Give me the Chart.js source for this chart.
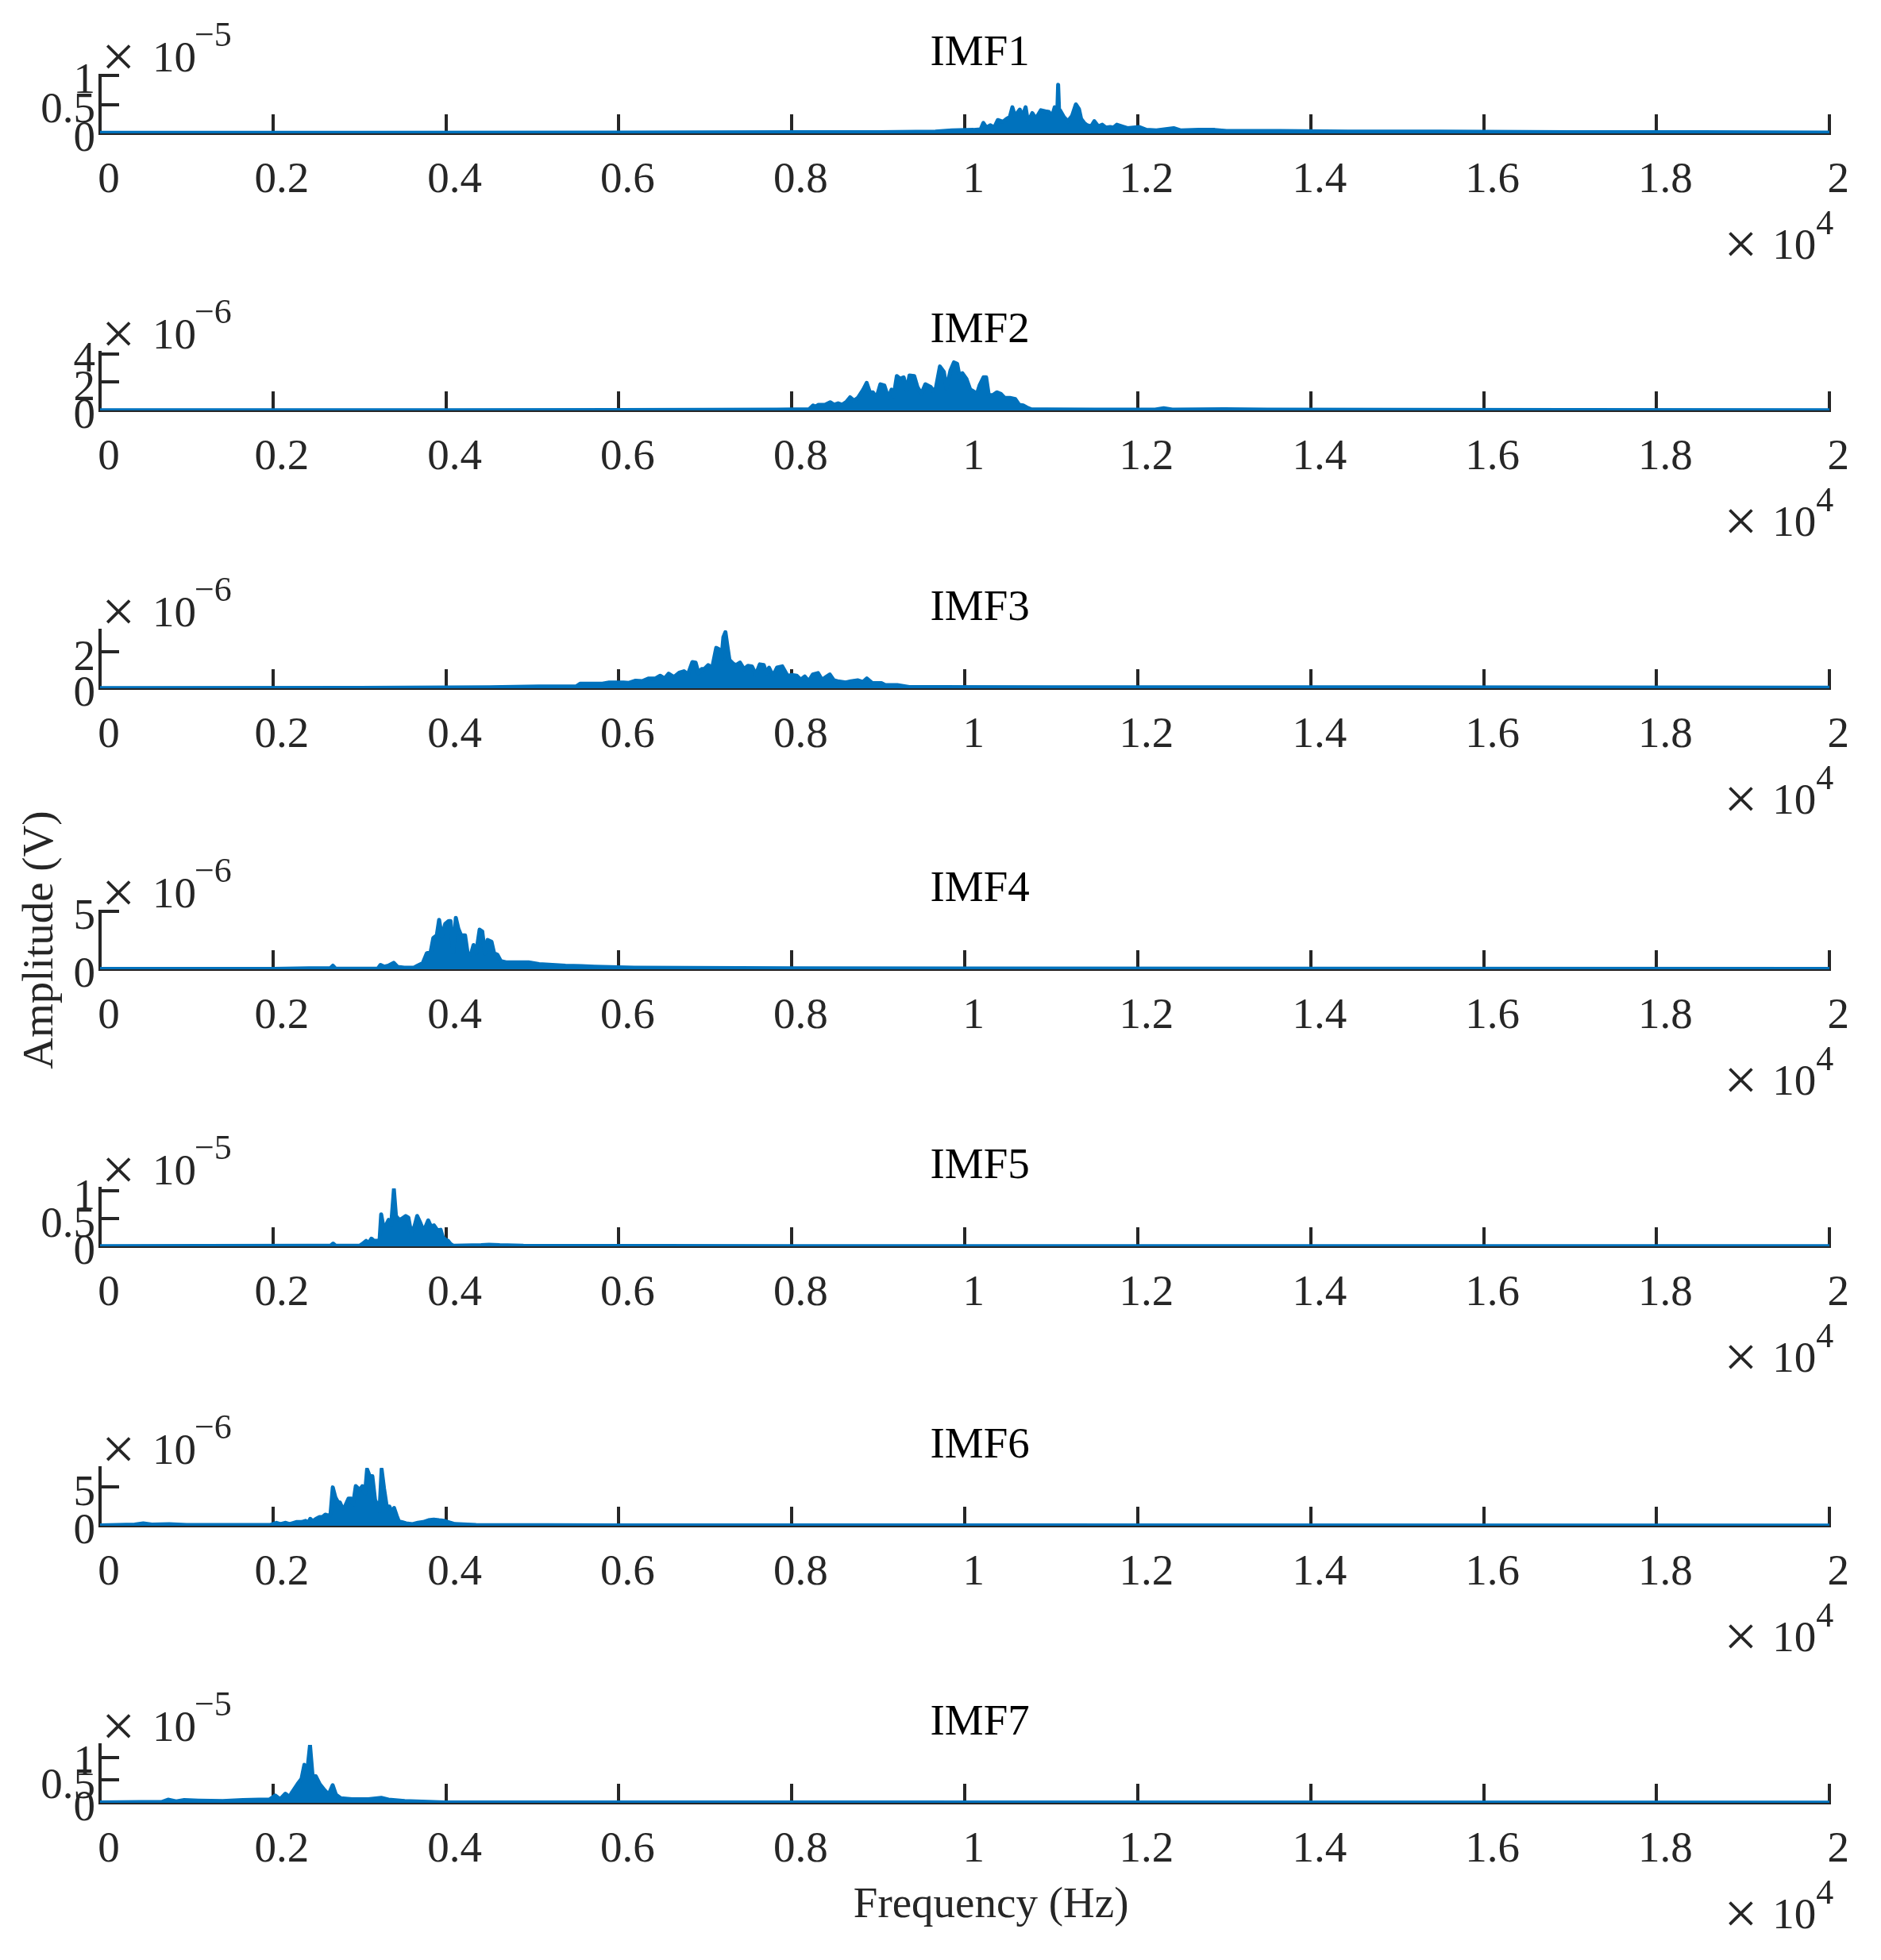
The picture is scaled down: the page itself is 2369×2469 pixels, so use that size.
<!DOCTYPE html>
<html>
<head>
<meta charset="utf-8">
<script src="https://cdn.jsdelivr.net/npm/chart.js@4.4.0/dist/chart.umd.min.js"></script>
<style>
  body { margin: 0; background: #fff; }
  #wrap { position: relative; width: 2369px; height: 2469px; overflow: hidden; background: #fff; }
  #wrap canvas { position: absolute; left: 0; }
  #ylabel {
    position: absolute; left: 47px; top: 1184px;
    font: 55px "Liberation Serif", "Times New Roman", serif; line-height: 1;
    color: #262626; white-space: nowrap;
    transform: translate(-50%, -50%) rotate(-90deg);
  }
</style>
</head>
<body>
<div id="wrap">
  <div id="ylabel">Amplitude (V)</div>
</div>
<script>
// panel names, y multipliers and y ranges
const panelNames = ['IMF1', 'IMF2', 'IMF3', 'IMF4', 'IMF5', 'IMF6', 'IMF7'];
const yExponents = [-5, -6, -6, -6, -5, -6, -5];
const yMax = [1, 4.1, 3.2, 5, 1.05, 7.5, 1.28];
const yTicks = [[0, 0.5, 1], [0, 2, 4], [0, 2], [0, 5], [0, 0.5, 1], [0, 5], [0, 0.5, 1]];
const xTickValues = [0, 2000, 4000, 6000, 8000, 10000, 12000, 14000, 16000, 18000, 20000];
const xTickLabels = ['0', '0.2', '0.4', '0.6', '0.8', '1', '1.2', '1.4', '1.6', '1.8', '2'];

// IMF1 spectrum (x 1e-5 V)
const freq1 = [0, 3000, 6000, 8000, 9000, 9660, 9850, 10100, 10183, 10214, 10250, 10297, 10340, 10382, 10440, 10483, 10520, 10550, 10580, 10636, 10670, 10703, 10730, 10749, 10780, 10810, 10840, 10880, 10930, 10972, 11010, 11039, 11070, 11079, 11090, 11100, 11146, 11192, 11240, 11284, 11320, 11345, 11380, 11412, 11460, 11498, 11544, 11590, 11630, 11681, 11720, 11758, 11880, 12018, 12100, 12216, 12415, 12500, 12705, 12889, 13026, 13638, 14433, 15500, 17000, 18500, 20000];
const amp1 = [0.01, 0.01, 0.015, 0.02, 0.02, 0.03, 0.05, 0.06, 0.07, 0.18, 0.10, 0.14, 0.10, 0.23, 0.20, 0.25, 0.28, 0.45, 0.30, 0.41, 0.30, 0.45, 0.20, 0.25, 0.35, 0.28, 0.30, 0.40, 0.38, 0.37, 0.30, 0.45, 0.40, 0.84, 0.40, 0.40, 0.28, 0.21, 0.30, 0.50, 0.42, 0.25, 0.18, 0.14, 0.12, 0.21, 0.12, 0.15, 0.10, 0.11, 0.10, 0.15, 0.09, 0.11, 0.06, 0.05, 0.09, 0.05, 0.06, 0.06, 0.04, 0.04, 0.03, 0.03, 0.02, 0.02, 0.015];

// IMF2 spectrum (x 1e-6 V)
const freq2 = [0, 4000, 6000, 7000, 7832, 8199, 8245, 8280, 8306, 8382, 8443, 8489, 8535, 8581, 8630, 8673, 8718, 8764, 8825, 8865, 8902, 8938, 8978, 9024, 9070, 9116, 9152, 9177, 9214, 9253, 9293, 9330, 9360, 9415, 9452, 9498, 9544, 9605, 9635, 9666, 9712, 9758, 9788, 9834, 9874, 9911, 9941, 9972, 10018, 10063, 10094, 10140, 10170, 10216, 10247, 10277, 10323, 10369, 10415, 10461, 10522, 10583, 10629, 10675, 10721, 10767, 10950, 11500, 12200, 12300, 12400, 13000, 13500, 15000, 17000, 20000];
const amp2 = [0.02, 0.02, 0.03, 0.04, 0.06, 0.08, 0.35, 0.25, 0.40, 0.40, 0.58, 0.40, 0.50, 0.40, 0.60, 0.93, 0.69, 0.89, 1.47, 1.95, 1.28, 1.28, 0.89, 1.85, 1.76, 0.89, 1.47, 1.00, 2.43, 2.24, 2.34, 1.47, 2.47, 2.43, 1.66, 1.18, 1.85, 1.66, 1.38, 1.60, 3.11, 2.72, 1.57, 2.82, 3.40, 3.30, 2.34, 2.63, 2.24, 1.47, 1.38, 1.18, 1.76, 2.34, 2.34, 1.08, 1.08, 1.28, 1.18, 0.89, 0.89, 0.80, 0.40, 0.35, 0.20, 0.08, 0.07, 0.06, 0.06, 0.15, 0.06, 0.08, 0.05, 0.04, 0.03, 0.02];

// IMF3 spectrum (x 1e-6 V)
const freq3 = [0, 3000, 4000, 4500, 5077, 5505, 5551, 5810, 5887, 6055, 6116, 6193, 6269, 6345, 6422, 6477, 6529, 6575, 6636, 6697, 6752, 6798, 6850, 6887, 6920, 6957, 6987, 7033, 7079, 7125, 7156, 7186, 7208, 7232, 7253, 7278, 7324, 7354, 7400, 7446, 7492, 7538, 7584, 7629, 7675, 7706, 7736, 7782, 7828, 7889, 7950, 8011, 8057, 8103, 8149, 8195, 8241, 8302, 8348, 8394, 8439, 8485, 8531, 8623, 8684, 8761, 8822, 8867, 8929, 9036, 9081, 9219, 9357, 9662, 11000, 13000, 15000, 17000, 20000];
const amp3 = [0.01, 0.02, 0.04, 0.06, 0.10, 0.10, 0.25, 0.25, 0.32, 0.32, 0.30, 0.42, 0.39, 0.54, 0.54, 0.69, 0.54, 0.81, 0.62, 0.86, 0.94, 0.76, 1.45, 1.42, 0.84, 1.06, 1.06, 1.28, 1.14, 2.23, 2.16, 1.64, 2.82, 3.10, 2.38, 1.57, 1.35, 1.28, 1.42, 1.06, 1.24, 1.21, 0.76, 1.32, 1.28, 0.84, 1.14, 0.69, 1.14, 1.21, 0.69, 0.73, 0.69, 0.47, 0.65, 0.39, 0.76, 0.84, 0.47, 0.62, 0.76, 0.44, 0.39, 0.32, 0.39, 0.44, 0.35, 0.54, 0.29, 0.28, 0.18, 0.18, 0.07, 0.07, 0.06, 0.05, 0.05, 0.04, 0.03];

// IMF4 spectrum (x 1e-6 V)
const freq4 = [0, 1000, 2000, 2417, 2662, 2692, 2723, 3212, 3243, 3288, 3334, 3395, 3441, 3518, 3625, 3671, 3732, 3778, 3823, 3854, 3894, 3921, 3952, 3992, 4031, 4053, 4083, 4114, 4144, 4175, 4221, 4251, 4288, 4319, 4349, 4389, 4420, 4450, 4481, 4527, 4557, 4594, 4634, 4695, 4863, 4955, 5077, 5230, 5382, 5566, 5719, 5902, 6177, 8000, 10000, 14000, 20000];
const amp4 = [0.03, 0.03, 0.04, 0.09, 0.09, 0.31, 0.05, 0.05, 0.38, 0.22, 0.31, 0.56, 0.20, 0.13, 0.13, 0.31, 0.53, 1.38, 1.49, 2.71, 2.93, 4.27, 2.82, 3.93, 4.16, 4.16, 1.49, 4.44, 3.49, 2.93, 2.93, 1.38, 1.27, 2.09, 1.38, 3.42, 3.27, 1.38, 2.53, 2.38, 1.38, 1.27, 0.71, 0.60, 0.60, 0.60, 0.44, 0.38, 0.31, 0.27, 0.22, 0.18, 0.13, 0.08, 0.06, 0.05, 0.04];

// IMF5 spectrum (x 1e-5 V)
const freq5 = [0, 2420, 2664, 2695, 2725, 3000, 3031, 3077, 3107, 3138, 3168, 3208, 3230, 3251, 3276, 3306, 3337, 3367, 3398, 3422, 3459, 3489, 3535, 3566, 3596, 3636, 3667, 3697, 3728, 3758, 3795, 3826, 3862, 3902, 3939, 3963, 3994, 4024, 4055, 4086, 4407, 4498, 4621, 4896, 8000, 20000];
const amp5 = [0.005, 0.01, 0.01, 0.05, 0.01, 0.01, 0.04, 0.10, 0.06, 0.14, 0.10, 0.10, 0.05, 0.58, 0.36, 0.38, 0.48, 0.40, 1.03, 0.55, 0.48, 0.50, 0.55, 0.52, 0.26, 0.36, 0.55, 0.45, 0.33, 0.33, 0.47, 0.36, 0.38, 0.29, 0.30, 0.17, 0.12, 0.10, 0.04, 0.01, 0.02, 0.03, 0.02, 0.01, 0.005, 0.005];

// IMF6 spectrum (x 1e-6 V)
const freq6 = [0, 400, 500, 600, 800, 1000, 1500, 1780, 1963, 2040, 2086, 2147, 2193, 2269, 2330, 2376, 2407, 2431, 2459, 2498, 2538, 2569, 2605, 2651, 2666, 2691, 2721, 2752, 2773, 2804, 2835, 2874, 2905, 2926, 2957, 2987, 3003, 3033, 3064, 3088, 3119, 3149, 3180, 3211, 3232, 3256, 3284, 3315, 3345, 3376, 3400, 3431, 3455, 3492, 3538, 3614, 3675, 3736, 3798, 3859, 3920, 3981, 4057, 4103, 4348, 6000, 10000, 20000];
const amp6 = [0.05, 0.15, 0.30, 0.15, 0.20, 0.10, 0.10, 0.10, 0.10, 0.38, 0.22, 0.38, 0.22, 0.48, 0.48, 0.64, 0.38, 0.90, 0.58, 0.90, 1.12, 1.12, 1.44, 1.28, 1.60, 4.97, 3.69, 3.04, 3.04, 2.24, 2.56, 3.53, 3.53, 2.72, 5.13, 4.81, 4.65, 5.13, 4.17, 7.31, 6.41, 6.41, 3.37, 2.56, 1.92, 7.31, 4.81, 2.50, 2.50, 1.76, 2.31, 1.28, 0.58, 0.48, 0.32, 0.22, 0.38, 0.48, 0.71, 0.80, 0.71, 0.64, 0.38, 0.22, 0.10, 0.06, 0.04, 0.03];

// IMF7 spectrum (x 1e-5 V)
const freq7 = [0, 716, 786, 880, 974, 1137, 1418, 1652, 1839, 1956, 2026, 2082, 2143, 2190, 2223, 2283, 2330, 2363, 2391, 2428, 2457, 2494, 2541, 2587, 2643, 2690, 2728, 2784, 2915, 3102, 3252, 3336, 3523, 3989, 8000, 20000];
const amp7 = [0.01, 0.02, 0.07, 0.03, 0.06, 0.05, 0.04, 0.06, 0.07, 0.07, 0.16, 0.08, 0.20, 0.13, 0.24, 0.41, 0.53, 0.84, 0.61, 1.27, 0.61, 0.59, 0.41, 0.30, 0.18, 0.39, 0.18, 0.10, 0.08, 0.08, 0.11, 0.07, 0.04, 0.01, 0.01, 0.005];

const freqs = [freq1, freq2, freq3, freq4, freq5, freq6, freq7];
const amps = [amp1, amp2, amp3, amp4, amp5, amp6, amp7];

// layout
const W = 2369;
const baselines = [168, 517, 867, 1221, 1570, 1922, 2271];
const plotLeft = 126, plotRight = 2307, plotHeight = 73;
const canvasH = 360, below = 180;
const serif = '"Liberation Serif", "Times New Roman", serif';
const ink = '#262626';
const blue = '#0072BD';

const decor = {
  id: 'decor',
  afterDraw(chart, args, opts) {
    const ctx = chart.ctx;
    const a = chart.chartArea;
    const b = a.bottom;
    ctx.save();
    ctx.textBaseline = 'alphabetic';
    // panel title
    ctx.font = '55px ' + serif;
    ctx.textAlign = 'center';
    ctx.fillStyle = '#000';
    ctx.fillText(opts.title, (a.left + a.right) / 2 + 19, b - 86);
    ctx.fillStyle = ink;
    // y multiplier, top left
    ctx.textAlign = 'left';
    ctx.font = '75px ' + serif;
    ctx.fillText('\u00d7', a.left + 2, b - 72);
    ctx.font = '55px ' + serif;
    ctx.fillText('10', a.left + 66, b - 78);
    const w = ctx.measureText('10').width;
    ctx.font = '44px ' + serif;
    ctx.fillText('\u2212' + Math.abs(opts.exp), a.left + 64 + w, b - 110);
    // x multiplier, below the axis on the right
    ctx.textAlign = 'right';
    ctx.fillText('4', a.right + 5, b + 127);
    ctx.font = '55px ' + serif;
    ctx.fillText('10', a.right - 17, b + 158);
    ctx.textAlign = 'left';
    ctx.font = '75px ' + serif;
    ctx.fillText('\u00d7', a.right - 133, b + 164);
    if (opts.xTitle) {
      ctx.font = '55px ' + serif;
      ctx.textAlign = 'center';
      ctx.fillText(opts.xTitle, (a.left + a.right) / 2 + 33, b + 144);
    }
    ctx.restore();
  }
};

const wrap = document.getElementById('wrap');

panelNames.forEach((name, i) => {
  const cv = document.createElement('canvas');
  cv.width = W;
  cv.height = canvasH;
  cv.style.top = (baselines[i] - (canvasH - below)) + 'px';
  wrap.appendChild(cv);

  new Chart(cv, {
    type: 'line',
    data: {
      datasets: [{
        data: freqs[i].map((f, k) => ({ x: f, y: amps[i][k] })),
        borderColor: blue,
        backgroundColor: blue,
        borderWidth: 5,
        borderJoinStyle: 'round',
        fill: 'origin',
        pointRadius: 0,
        tension: 0
      }]
    },
    options: {
      responsive: false,
      animation: false,
      events: [],
      layout: { padding: { left: 0, right: W - plotRight, top: canvasH - below - plotHeight, bottom: 0 } },
      plugins: {
        legend: { display: false },
        tooltip: { enabled: false },
        decor: { title: name, exp: yExponents[i], xTitle: i === panelNames.length - 1 ? 'Frequency (Hz)' : '' }
      },
      scales: {
        x: {
          type: 'linear',
          min: 0,
          max: 20000,
          afterFit(s) { s.height = below; },
          afterBuildTicks(s) { s.ticks = xTickValues.map(v => ({ value: v })); },
          ticks: {
            font: { family: serif, size: 55 },
            color: ink,
            padding: 51,
            labelOffset: 11,
            maxRotation: 0,
            autoSkip: false,
            callback: (v, idx) => xTickLabels[idx]
          },
          grid: { drawOnChartArea: false, drawTicks: true, tickLength: -24, color: ink, lineWidth: 4 },
          border: { display: true, color: ink, width: 4 }
        },
        y: {
          min: 0,
          max: yMax[i],
          afterFit(s) { s.width = plotLeft; },
          afterBuildTicks(s) { s.ticks = yTicks[i].map(v => ({ value: v })); },
          ticks: {
            font: { family: serif, size: 55 },
            color: ink,
            padding: 30,
            labelOffset: 8,
            autoSkip: false,
            callback: v => String(v)
          },
          grid: { drawOnChartArea: false, drawTicks: true, tickLength: -24, color: ink, lineWidth: 4 },
          border: { display: true, color: ink, width: 4 }
        }
      }
    },
    plugins: [decor]
  });
});
</script>
</body>
</html>
